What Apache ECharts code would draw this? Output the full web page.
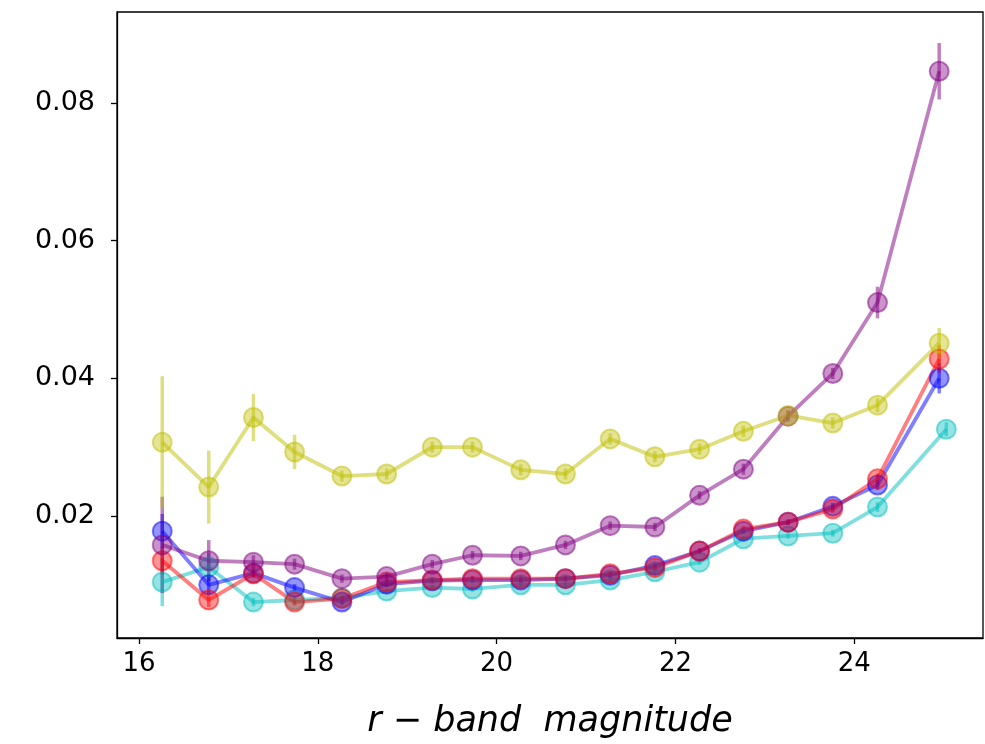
<!DOCTYPE html>
<html><head><meta charset="utf-8">
<script src="https://cdn.jsdelivr.net/npm/echarts@6/dist/echarts.min.js"></script>
<style>html,body{margin:0;padding:0;background:#fff}#c{width:985px;height:744px}</style>
</head><body><div id="c"></div>
<script>
const xMain = [16.26,16.78,17.28,17.74,18.27,18.77,19.28,19.73,20.27,20.77,21.27,21.77,22.27,22.76,23.26,23.76,24.26,24.95];
const xCyan = [16.26,16.78,17.28,17.74,18.27,18.77,19.28,19.73,20.27,20.77,21.27,21.77,22.27,22.76,23.26,23.76,24.26,25.03];
const yellowVals = [0.0307,0.0242,0.0343,0.0293,0.0258,0.0261,0.0300,0.0300,0.0267,0.0261,0.0312,0.0286,0.0297,0.0323,0.0346,0.0335,0.0361,0.0451];
const yellowErr  = [0.0096,0.0053,0.0034,0.0025,0.0008,0.0008,0.0008,0.0008,0.0008,0.0008,0.0008,0.0008,0.0008,0.0008,0.0008,0.0008,0.0010,0.0022];
const purpleVals = [0.0158,0.0135,0.0133,0.0130,0.0109,0.0112,0.0130,0.0143,0.0142,0.0158,0.0186,0.0184,0.0230,0.0268,0.0345,0.0407,0.0510,0.0846];
const purpleErr  = [0.0070,0.0030,0.0010,0.0008,0.0006,0.0006,0.0006,0.0006,0.0006,0.0006,0.0006,0.0006,0.0006,0.0008,0.0008,0.0008,0.0023,0.0041];
const blueVals   = [0.0178,0.0100,0.0117,0.0096,0.0075,0.0101,0.0106,0.0107,0.0107,0.0109,0.0114,0.0128,0.0149,0.0178,0.0191,0.0214,0.0245,0.0400];
const blueErr    = [0.0025,0.0012,0.0006,0.0005,0.0004,0.0004,0.0004,0.0004,0.0004,0.0004,0.0004,0.0004,0.0004,0.0004,0.0004,0.0005,0.0007,0.0022];
const redVals    = [0.0135,0.0078,0.0116,0.0075,0.0080,0.0104,0.0107,0.0109,0.0109,0.0109,0.0116,0.0125,0.0149,0.0181,0.0191,0.0210,0.0254,0.0428];
const redErr     = [0.0020,0.0010,0.0006,0.0005,0.0004,0.0004,0.0004,0.0004,0.0004,0.0004,0.0004,0.0004,0.0004,0.0004,0.0004,0.0005,0.0008,0.0020];
const cyanVals   = [0.0104,0.0126,0.0075,0.0078,0.0081,0.0091,0.0096,0.0094,0.0100,0.0100,0.0107,0.0119,0.0133,0.0167,0.0171,0.0175,0.0213,0.0326];
const cyanErr    = [0.0035,0.0020,0.0006,0.0005,0.0004,0.0004,0.0004,0.0004,0.0004,0.0004,0.0004,0.0004,0.0004,0.0004,0.0004,0.0005,0.0007,0.0010];
const xTicks = [16,18,20,22,24];
const yTicks = [0.02,0.04,0.06,0.08];

const seriesDefs = [
  {name:'cyan', rgb:'0,191,191', x:xCyan, v:cyanVals, e:cyanErr},
  {name:'blue', rgb:'0,0,255', x:xMain, v:blueVals, e:blueErr},
  {name:'red', rgb:'255,0,0', x:xMain, v:redVals, e:redErr},
  {name:'purple', rgb:'128,0,128', x:xMain, v:purpleVals, e:purpleErr},
  {name:'yellow', rgb:'191,191,0', x:xMain, v:yellowVals, e:yellowErr}
];
const series = [];
seriesDefs.forEach(s => {
  const pts = s.x.map((x,i)=>[x, s.v[i]]);
  const errs = s.x.map((x,i)=>[x, s.v[i]-s.e[i], s.v[i]+s.e[i]]);
  series.push({
    type:'custom', name:s.name+'-err', data:errs, silent:true,
    renderItem:(params, api)=>{
      const a = api.coord([api.value(0), api.value(1)]);
      const b = api.coord([api.value(0), api.value(2)]);
      return {type:'line', shape:{x1:a[0],y1:a[1],x2:b[0],y2:b[1]},
        style:{stroke:'rgba('+s.rgb+',0.5)', lineWidth:3.5}};
    }
  });
  series.push({
    type:'line', name:s.name, data:pts, symbol:'circle', symbolSize:19,
    lineStyle:{color:'rgba('+s.rgb+',0.5)', width:3.8},
    itemStyle:{color:'rgba('+s.rgb+',0.42)', borderColor:'rgba('+s.rgb+',0.5)', borderWidth:2},
    animation:false
  });
});

const chart = echarts.init(document.getElementById('c'));
chart.setOption({
  animation:false,
  grid:{left:117, right:2, top:12, bottom:106, containLabel:false, outerBoundsMode:'none'},
  xAxis:{type:'value', min:15.754, max:25.44,
    axisLine:{show:true, onZero:false, lineStyle:{color:'#000', width:1.3}},
    axisTick:{show:true, length:6, customValues:xTicks, lineStyle:{color:'#000', width:1.3}},
    axisLabel:{customValues:xTicks, color:'#000', fontFamily:'DejaVu Sans', fontSize:26, margin:13},
    splitLine:{show:false},
    name:'r − band  magnitude', nameLocation:'middle', nameGap:66,
    nameTextStyle:{fontFamily:'DejaVu Sans', fontStyle:'italic', fontSize:35, color:'#000'}
  },
  yAxis:{type:'value', min:0.00228, max:0.0932,
    axisLine:{show:true, onZero:false, lineStyle:{color:'#000', width:1.3}},
    axisTick:{show:true, length:6, customValues:yTicks, lineStyle:{color:'#000', width:1.3}},
    axisLabel:{customValues:yTicks, color:'#000', fontFamily:'DejaVu Sans', fontSize:27, margin:22,
      formatter:v=>v.toFixed(2)},
    splitLine:{show:false}
  },
  graphic:[{type:'rect', shape:{x:117, y:12, width:866, height:626},
    style:{fill:'none', stroke:'#000', lineWidth:1.3}, z:10, silent:true}],
  series:series
});
</script></body></html>
